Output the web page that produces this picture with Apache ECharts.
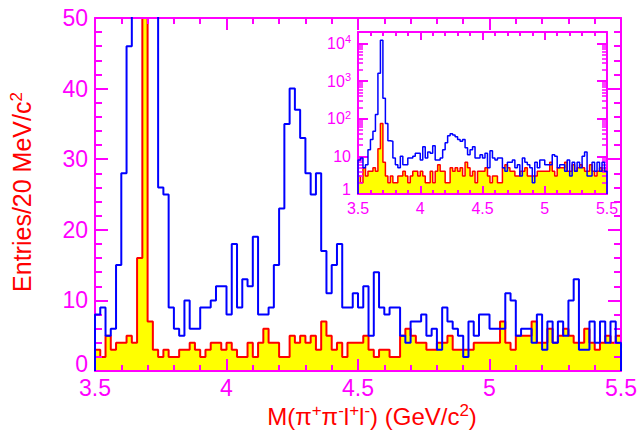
<!DOCTYPE html>
<html>
<head>
<meta charset="utf-8">
<script src="https://cdn.jsdelivr.net/npm/echarts@6/dist/echarts.min.js"></script>
<style>
  html, body { margin: 0; padding: 0; background: #fff; }
  #chart { width: 640px; height: 443px; }
</style>
</head>
<body>
<div id="chart"></div>
<script>
// 100 bins of 20 MeV from 3.5 to 5.5 GeV
const binStart = 3.5;
const binWidth = 0.02;

// blue histogram (all entries)
const blueCounts = [
  8, 9, 5, 6, 15, 28, 46, 130, 1600, 12000,
  350, 75, 26, 25, 9, 6, 5, 10, 6, 6,
  9, 9, 10, 12, 12, 8, 18, 9, 13, 12,
  19, 8, 8, 9, 15, 23, 35, 40, 37, 33,
  28, 25, 28, 17, 11, 15, 18, 9, 9, 11,
  9, 12, 5, 14, 9, 8, 9, 9, 5, 4,
  7, 7, 8, 5, 6, 3, 9, 7, 6, 5,
  2, 7, 5, 8, 8, 6, 6, 6, 11, 10,
  5, 6, 6, 4, 8, 3, 7, 4, 7, 5,
  10, 13, 3, 3, 7, 4, 7, 4, 7, 4
];

// red histogram, yellow filled
const redCounts = [
  3, 2, 5, 3, 4, 4, 5, 4, 16, 75,
  7, 3, 2, 3, 2, 2, 3, 3, 4, 3,
  2, 3, 4, 4, 3, 4, 3, 2, 2, 4,
  2, 4, 6, 4, 4, 2, 2, 5, 4, 5,
  4, 5, 3, 7, 5, 3, 4, 2, 4, 4,
  4, 5, 3, 2, 3, 3, 2, 2, 5, 6,
  5, 4, 4, 3, 3, 4, 4, 5, 3, 3,
  3, 3, 4, 4, 4, 4, 4, 7, 4, 3,
  5, 5, 5, 7, 4, 4, 6, 4, 5, 6,
  5, 4, 4, 6, 4, 3, 4, 5, 4, 5
];

const MAG = "#ff00ff";
const FONT = "Liberation Sans";

// step outline: left edge of each bin, closed down to the base
function steps(counts, base) {
  const pts = [[binStart, base]];
  counts.forEach(function (c, i) {
    pts.push([+(binStart + i * binWidth).toFixed(2), c]);
  });
  pts.push([+(binStart + counts.length * binWidth).toFixed(2), base]);
  return pts;
}

// 2..9 x 10^n ticks for the log inset
const logMinor = [];
for (let d = 0; d <= 4; d++) {
  for (let k = 2; k <= 9; k++) {
    if (k * Math.pow(10, d) < 20000) logMinor.push(k * Math.pow(10, d));
  }
}

function xAx(grid, pos, labels, fs, major, minor) {
  return {
    gridIndex: grid,
    type: "value",
    position: pos,
    min: 3.5,
    max: 5.5,
    interval: 0.5,
    z: 3,
    axisLine: { show: true, onZero: false, lineStyle: { color: MAG, width: 2 } },
    axisTick: { show: true, inside: true, length: major, lineStyle: { color: MAG, width: 2 } },
    minorTick: { show: true, splitNumber: 5, length: minor, lineStyle: { color: MAG, width: 2 } },
    axisLabel: { show: labels, color: MAG, fontSize: fs, fontFamily: FONT, margin: grid === 0 ? 5 : 6 },
    splitLine: { show: false },
    minorSplitLine: { show: false }
  };
}

const supFmt = function (v) {
  const e = Math.round(Math.log10(v));
  if (Math.abs(Math.log10(v) - e) > 1e-6) return "";
  if (e === 0) return "{lo|1}";
  if (e === 1) return "10";
  return "10{sup|" + e + "}";
};

function yLog(pos, labels) {
  return {
    gridIndex: 1,
    type: "log",
    logBase: 10,
    position: pos,
    min: 1,
    max: 20000,
    z: 3,
    axisLine: { show: true, lineStyle: { color: MAG, width: 2 } },
    axisTick: { show: true, inside: true, length: 10, lineStyle: { color: MAG, width: 2 } },
    axisLabel: {
      show: labels, color: MAG, fontSize: 16, fontFamily: FONT, margin: 7,
      formatter: supFmt,
      rich: {
        sup: { fontSize: 11, verticalAlign: "top", color: MAG, fontFamily: FONT, padding: [0, 0, 8, 0] },
        lo: { fontSize: 16, color: MAG, fontFamily: FONT, padding: [0, 0, 10, 0] }
      }
    },
    splitLine: { show: false },
    minorSplitLine: { show: false }
  };
}

function yLogMinor(pos) {
  return {
    gridIndex: 1,
    type: "log",
    logBase: 10,
    position: pos,
    min: 1,
    max: 20000,
    z: 3,
    axisLine: { show: false },
    axisTick: { show: true, inside: true, length: 5, customValues: logMinor, lineStyle: { color: MAG, width: 1.5 } },
    axisLabel: { show: false },
    splitLine: { show: false }
  };
}

function yLin(pos, labels) {
  return {
    gridIndex: 0,
    type: "value",
    position: pos,
    min: 0,
    max: 50,
    interval: 10,
    z: 3,
    axisLine: { show: true, lineStyle: { color: MAG, width: 2 } },
    axisTick: { show: true, inside: true, length: 13, lineStyle: { color: MAG, width: 2 } },
    minorTick: { show: true, splitNumber: 5, length: 7, lineStyle: { color: MAG, width: 2 } },
    axisLabel: {
      show: labels, color: MAG, fontSize: 23, fontFamily: FONT, margin: 7,
      formatter: function (v) { return v === 0 ? "{lo|0}" : String(v); },
      rich: { lo: { fontSize: 23, color: MAG, fontFamily: FONT, padding: [0, 0, 14, 0] } }
    },
    splitLine: { show: false },
    minorSplitLine: { show: false }
  };
}

function hist(counts, base, xi, color, fill, w, z) {
  const s = {
    type: "line",
    xAxisIndex: xi,
    yAxisIndex: xi,
    step: "end",
    showSymbol: false,
    symbol: "none",
    animation: false,
    z: z,
    lineStyle: { color: color, width: w },
    data: steps(counts, base)
  };
  if (fill) s.areaStyle = { color: fill, opacity: 1, origin: "start" };
  return s;
}

const supStyle = { fontSize: 17, verticalAlign: "top", fill: "#ff0000", fontFamily: FONT, padding: [0, 0, 12, 0] };

const chart = echarts.init(document.getElementById("chart"), null, { renderer: "svg" });
chart.setOption({
  backgroundColor: "#fff",
  animation: false,
  grid: [
    { left: 95, right: 14, top: 18, bottom: 72 },
    { left: 358, right: 33, top: 32, bottom: 249, show: true, backgroundColor: "#fff", borderWidth: 0 }
  ],
  xAxis: [
    xAx(0, "bottom", true, 23, 12, 6),
    xAx(0, "top", false, 23, 12, 6),
    xAx(1, "bottom", true, 16, 8, 4),
    xAx(1, "top", false, 16, 8, 4)
  ],
  yAxis: [
    yLin("left", true),
    yLin("right", false),
    yLog("left", true),
    yLog("right", false),
    yLogMinor("left"),
    yLogMinor("right")
  ],
  graphic: [
    {
      type: "text",
      x: 22, y: 192,
      rotation: Math.PI / 2,
      style: {
        text: "Entries/20 MeV/c{sup|2}",
        fill: "#ff0000",
        fontSize: 25,
        fontFamily: FONT,
        align: "center",
        verticalAlign: "middle",
        rich: { sup: supStyle }
      }
    },
    {
      type: "text",
      x: 372, y: 416,
      style: {
        text: "M(π{sup|+}π{sup|-}l{sup|+}l{sup|-}) (GeV/c{sup|2})",
        fill: "#ff0000",
        fontSize: 24,
        fontFamily: FONT,
        align: "center",
        verticalAlign: "middle",
        rich: { sup: supStyle }
      }
    }
  ],
  series: [
    hist(redCounts, 0, 0, "#ff0000", "#ffff00", 2, 2),
    hist(blueCounts, 0, 0, "#0000ff", null, 2, 4),
    hist(redCounts, 1, 2, "#ff0000", "#ffff00", 1.5, 2),
    hist(blueCounts, 1, 2, "#0000ff", null, 1.5, 4)
  ]
});
</script>
</body>
</html>
